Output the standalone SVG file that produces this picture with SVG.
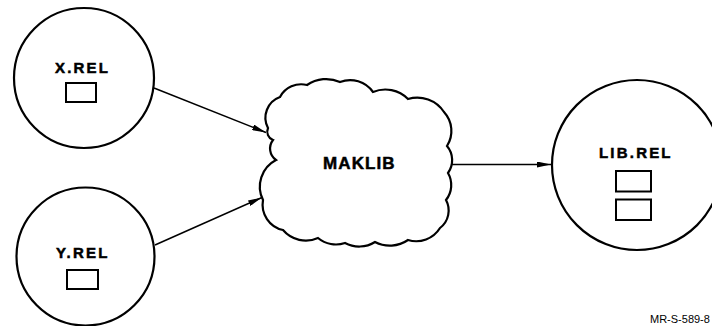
<svg xmlns="http://www.w3.org/2000/svg" width="712" height="326" viewBox="0 0 712 326">
<style>
.node{fill:none;stroke:#000;stroke-width:2.2}
.box{fill:none;stroke:#000;stroke-width:2}
.lbl{font-family:"Liberation Sans",Arial,sans-serif;font-weight:bold;font-size:15px;letter-spacing:2.2px;fill:#000;stroke:#000;stroke-width:0.5}
.big{font-size:17px;letter-spacing:1.1px}
.conn{stroke:#000;stroke-width:1.5;fill:none;marker-end:url(#ah)}
.note{font-family:"Liberation Sans",Arial,sans-serif;font-size:11px;fill:#000}
</style>
<defs>
<marker id="ah" viewBox="0 0 14 6" refX="14" refY="3" markerWidth="14" markerHeight="6" markerUnits="userSpaceOnUse" orient="auto">
<path d="M0,0 L14,3 L0,6 Z" fill="#000"/>
</marker>
</defs>
<rect width="712" height="326" fill="#fff"/>
<g id="connectors">
<line class="conn" x1="154" y1="88" x2="266" y2="132.5"/>
<line class="conn" x1="155" y1="245" x2="262" y2="197.5"/>
<line class="conn" x1="452" y1="164.5" x2="551" y2="164.5"/>
</g>
<g id="xrel">
<circle class="node" cx="84" cy="78" r="70"/>
<text class="lbl" x="55" y="73">X.REL</text>
<rect class="box" x="66" y="83" width="30" height="19"/>
</g>
<g id="yrel">
<circle class="node" cx="85.5" cy="256.5" r="69"/>
<text class="lbl" x="56" y="258">Y.REL</text>
<rect class="box" x="67" y="270" width="31" height="19"/>
</g>
<g id="maklib">
<path class="node" stroke-width="2.6" d="M268,128 A22,22 0 0 1 280,97 A24,24 0 0 1 307,85 A34,34 0 0 1 340,82 A28,28 0 0 1 373,92 A32,32 0 0 1 408,99 A32,32 0 0 1 444,112 A28,28 0 0 1 447,146 A22,22 0 0 1 448,173 A24,24 0 0 1 446,200 A22,22 0 0 1 440,228 A28,28 0 0 1 408,240 A32,32 0 0 1 375,242 A30,30 0 0 1 345,243 A28,28 0 0 1 318,238 A30,30 0 0 1 283,230 A26,26 0 0 1 263,200 A30,30 0 0 1 276,160 A14,14 0 0 1 273,140 A9,9 0 0 1 268,128 Z"/>
<text class="lbl big" x="323" y="169">MAKLIB</text>
</g>
<g id="librel">
<circle class="node" cx="637" cy="165" r="85"/>
<text class="lbl" x="599" y="158">LIB.REL</text>
<rect class="box" x="616" y="171" width="35" height="20.5"/>
<rect class="box" x="616" y="199.5" width="35" height="20.5"/>
</g>
<text class="note" x="650" y="323">MR-S-589-8</text>
</svg>
